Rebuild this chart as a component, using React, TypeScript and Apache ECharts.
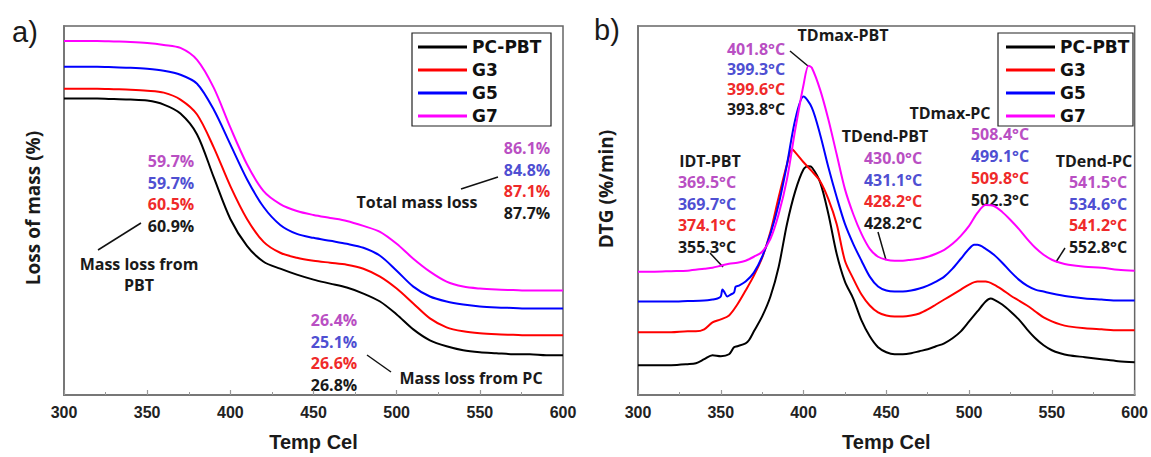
import React, { useEffect, useRef } from "react";
import * as echarts from "echarts";

// ---------- DATA ----------
const seriesNames = ["PC-PBT", "G3", "G5", "G7"];
const lineColors = ["#000000", "#ff0000", "#0000ff", "#ff00ff"];

// TGA curves (panel a), sampled every 10 °C from 300 to 600 (relative mass signal, stacked offsets)
const tgaTemps = [300, 310, 320, 330, 340, 350, 360, 370, 380, 390, 400, 410, 420, 430, 440, 450,
  460, 470, 480, 490, 500, 510, 520, 530, 540, 550, 560, 570, 580, 590, 600];
const tgaPcPbt = [298, 298, 298, 297.5, 297, 296, 292, 283, 262, 219, 177, 150, 134, 127, 121, 116,
  112, 108, 102, 94, 81, 66, 55, 49, 45, 43, 42, 41, 41, 40, 40];
const tgaG3 = [308, 308, 308, 307.5, 307, 306, 304, 297, 282, 249, 210, 177, 154, 143, 138, 135,
  133, 131, 127, 119, 107, 92, 77, 68, 64, 62, 61, 60.5, 60, 60, 60];
const tgaG5 = [330, 330, 330, 329.5, 329, 328, 326, 322, 313, 287, 252, 217, 189, 171, 162, 158,
  155, 152, 148, 140, 125, 109, 99, 94, 91, 89, 88, 87.5, 87, 87, 87];
const tgaG7 = [356, 356, 356, 355.5, 355, 354, 352, 349, 337, 309, 269, 232, 205, 192, 185, 181,
  178, 175, 170, 164, 152, 137, 124, 114, 109, 107, 106, 105.5, 105, 105, 105];

// DTG curves (panel b): [temperature °C, DTG signal (stacked offsets)]
const dtgPcPbt: [number, number][] = [
  [300, 30], [310, 30], [320, 30], [330, 31], [335, 32], [340, 36], [345, 40], [350, 39], [355, 41],
  [358, 48], [360, 49], [365, 52], [367, 55], [370, 64], [375, 79], [380, 99], [385, 129], [390, 172],
  [395, 205], [400, 227], [403, 230], [405, 229], [410, 214], [415, 182], [420, 142], [425, 114],
  [430, 97], [435, 75], [440, 59], [445, 48], [450, 43], [455, 41], [460, 41], [465, 42], [470, 44],
  [475, 46], [480, 49], [485, 52], [490, 57], [495, 64], [500, 74], [505, 84], [510, 94], [513, 97],
  [515, 96], [520, 91], [525, 84], [530, 76], [535, 66], [540, 57], [545, 50], [550, 45], [555, 42],
  [560, 40], [570, 38], [580, 36], [590, 34], [600, 33],
];
const dtgG3: [number, number][] = [
  [300, 63], [310, 63], [320, 63], [330, 64], [335, 64], [340, 66], [345, 73], [350, 76], [355, 80],
  [360, 91], [365, 105], [370, 120], [375, 138], [380, 164], [385, 199], [390, 232], [393, 247],
  [395, 244], [400, 234], [405, 225], [410, 215], [415, 197], [420, 172], [425, 135], [430, 117],
  [435, 101], [440, 90], [445, 83], [450, 80], [455, 79], [460, 79], [465, 80], [470, 82], [475, 86],
  [480, 91], [485, 96], [490, 101], [495, 106], [500, 111], [505, 114], [510, 114], [515, 111],
  [520, 106], [525, 100], [530, 95], [535, 90], [540, 84], [545, 78], [550, 74], [555, 71], [560, 69],
  [570, 67], [580, 66], [590, 65], [600, 65],
];
const dtgG5: [number, number][] = [
  [300, 94], [310, 94], [320, 94], [330, 94.5], [340, 95], [345, 96], [348, 97], [350, 99], [351, 106],
  [352, 104], [354, 99], [356, 101], [358, 103], [359, 109], [361, 110], [365, 114], [370, 123],
  [375, 139], [380, 162], [385, 192], [390, 232], [395, 277], [400, 300], [405, 289], [410, 262],
  [415, 229], [420, 199], [425, 172], [430, 152], [435, 135], [440, 119], [445, 109], [450, 105],
  [455, 104], [460, 104], [465, 105], [470, 107], [475, 110], [480, 114], [485, 119], [490, 127],
  [495, 137], [500, 147], [503, 151], [505, 151], [510, 147], [515, 141], [520, 133], [525, 124],
  [530, 116], [535, 110], [540, 106], [545, 104], [550, 102], [560, 99], [570, 97], [580, 96],
  [590, 95], [600, 95],
];
const dtgG7: [number, number][] = [
  [300, 124], [310, 124], [320, 124.5], [330, 125], [340, 127], [345, 128], [350, 130], [355, 132],
  [360, 133], [365, 135], [370, 139], [375, 144], [380, 157], [385, 182], [390, 217], [395, 267],
  [400, 312], [403, 331], [405, 329], [410, 307], [415, 277], [420, 242], [425, 207], [430, 182],
  [435, 162], [440, 147], [445, 139], [450, 136], [455, 135], [460, 135], [465, 136], [470, 137],
  [475, 139], [480, 142], [485, 146], [490, 152], [495, 160], [500, 170], [505, 183], [510, 191],
  [515, 190], [520, 184], [525, 176], [530, 167], [535, 157], [540, 148], [545, 141], [550, 136],
  [555, 133], [560, 131], [570, 129], [580, 128], [590, 126], [600, 125],
];

// Annotation texts, ordered G7, G5, G3, PC-PBT (top to bottom)
const massLossPbt = ["59.7%", "59.7%", "60.5%", "60.9%"];
const totalMassLoss = ["86.1%", "84.8%", "87.1%", "87.7%"];
const massLossPc = ["26.4%", "25.1%", "26.6%", "26.8%"];
const tdmaxPbt = ["401.8°C", "399.3°C", "399.6°C", "393.8°C"];
const tdmaxPc = ["508.4°C", "499.1°C", "509.8°C", "502.3°C"];
const tdendPbt = ["430.0°C", "431.1°C", "428.2°C", "428.2°C"];
const idtPbt = ["369.5°C", "369.7°C", "374.1°C", "355.3°C"];
const tdendPc = ["541.5°C", "534.6°C", "541.2°C", "552.8°C"];
const xTicks = [300, 350, 400, 450, 500, 550, 600];

// ---------- STYLE ----------
const textColors = ["#b94fc3", "#4f4fd2", "#ef2a2a", "#1a1a1a"]; // G7, G5, G3, PC-PBT
const annFont = "'Open Sans', 'DejaVu Sans', sans-serif";
const tickFont = "'Liberation Sans', Arial, sans-serif";

function stack(texts: string[], cx: number, y0: number, step: number, size = 16) {
  return texts.map((t, i) => ({
    type: "text",
    x: cx,
    y: y0 + i * step,
    style: {
      text: t,
      fill: textColors[i],
      fontFamily: annFont,
      fontWeight: "bold",
      fontSize: size,
      textAlign: "center",
      textVerticalAlign: "middle",
    },
  }));
}
function label(t: string, cx: number, cy: number, size = 16, rotation = 0, family = annFont, weight = "bold") {
  return {
    type: "text",
    x: cx,
    y: cy,
    rotation,
    style: {
      text: t,
      fill: "#1a1a1a",
      fontFamily: family,
      fontWeight: weight,
      fontSize: size,
      textAlign: "center",
      textVerticalAlign: "middle",
    },
  };
}
function leader(x1: number, y1: number, x2: number, y2: number) {
  return { type: "line", shape: { x1, y1, x2, y2 }, style: { stroke: "#111", lineWidth: 1.5 } };
}
function legendBox(x: number, y: number, w: number, h: number) {
  return { type: "rect", shape: { x, y, width: w, height: h }, style: { fill: "#fff", stroke: "#222", lineWidth: 1.2 }, z: -1 };
}

export default function App() {
  const ref = useRef<HTMLDivElement>(null);
  useEffect(() => {
    if (!ref.current) return;
    const chart = echarts.init(ref.current, null, { renderer: "svg" });

    const grids = [
      { left: 64, top: 26, width: 499, height: 371 },
      { left: 638, top: 26, width: 499, height: 371 },
    ];
    const xAxisBase = (gridIndex: number) => ({
      type: "value",
      gridIndex,
      min: 300,
      max: 600,
      interval: 50,
      axisLine: { show: true, lineStyle: { color: "#777", width: 2 } },
      axisTick: { show: true, inside: true, length: 5, lineStyle: { color: "#999", width: 1.2 } },
      minorTick: { show: true, splitNumber: 2, length: 3, lineStyle: { color: "#999" } },
      splitLine: { show: false },
      axisLabel: {
        margin: 9,
        color: "#222",
        fontFamily: tickFont,
        fontWeight: "bold",
        fontSize: 16,
        formatter: (v: number) => (xTicks.includes(v) ? String(v) : ""),
      },
      name: "Temp Cel",
      nameLocation: "middle",
      nameGap: 37,
      nameTextStyle: { color: "#1a1a1a", fontFamily: tickFont, fontWeight: "bold", fontSize: 20 },
    });
    const yAxisBase = (gridIndex: number) => ({
      type: "value",
      gridIndex,
      min: 0,
      max: 371,
      axisLine: { show: true, lineStyle: { color: "#777", width: 2 } },
      axisTick: { show: false },
      axisLabel: { show: false },
      splitLine: { show: false },
    });

    const tga = [tgaPcPbt, tgaG3, tgaG5, tgaG7];
    const dtg = [dtgPcPbt, dtgG3, dtgG5, dtgG7];
    const series: any[] = [];
    tga.forEach((vals, i) =>
      series.push({
        type: "line", name: seriesNames[i], data: tgaTemps.map((t, k) => [t, vals[k]]),
        xAxisIndex: 0, yAxisIndex: 0,
        smooth: 0.3, symbol: "none", lineStyle: { color: lineColors[i], width: 2 }, itemStyle: { color: lineColors[i] },
      })
    );
    dtg.forEach((d, i) =>
      series.push({
        type: "line", name: seriesNames[i], data: d, xAxisIndex: 1, yAxisIndex: 1,
        smooth: 0.3, symbol: "none", lineStyle: { color: lineColors[i], width: 2 }, itemStyle: { color: lineColors[i] },
      })
    );

    const legendBase = (left: number) => ({
      data: seriesNames,
      orient: "vertical",
      left,
      top: 38,
      padding: 0,
      itemGap: 5,
      itemWidth: 49,
      itemHeight: 3,
      icon: "rect",
      textStyle: { color: "#111", fontFamily: "'DejaVu Sans', sans-serif", fontWeight: "bold", fontSize: 17, lineHeight: 18 },
      selectedMode: false,
    });

    const graphic: any[] = [
      legendBox(412, 33, 139, 93),
      legendBox(998, 33, 135, 93),
      label("a)", 25, 32, 29, 0, tickFont, "normal"),
      label("b)", 607, 30, 29, 0, tickFont, "normal"),
      label("Loss of mass (%)", 33, 208, 19, Math.PI / 2),
      label("DTG (%/min)", 606, 189, 19, Math.PI / 2),
      // panel a annotations
      ...stack(massLossPbt, 171, 161, 21.6),
      label("Mass loss from", 139, 264),
      label("PBT", 139, 285),
      leader(141, 223, 98, 250),
      ...stack(totalMassLoss, 527, 148, 21.7),
      label("Total mass loss", 417, 202),
      leader(461, 189, 498, 177),
      ...stack(massLossPc, 334, 320, 21.7),
      label("Mass loss from PC", 471, 378),
      leader(367, 355, 391, 372),
      // panel b annotations
      label("TDmax-PBT", 843, 35),
      ...stack(tdmaxPbt, 756, 49, 20),
      leader(790, 51, 808, 66),
      label("TDmax-PC", 950, 113),
      ...stack(tdmaxPc, 1000, 134, 22),
      label("TDend-PBT", 885, 136),
      ...stack(tdendPbt, 893, 158, 21.7),
      leader(878, 232, 886, 260),
      label("IDT-PBT", 710, 161),
      ...stack(idtPbt, 707, 182, 21.7),
      leader(710, 253, 723, 267),
      label("TDend-PC", 1094, 161),
      ...stack(tdendPc, 1098, 182, 21.7),
      leader(1065, 248, 1056, 262),
    ];

    chart.setOption({
      animation: false,
      backgroundColor: "#ffffff",
      grid: grids.map((g) => ({ ...g, show: true, borderColor: "#666", borderWidth: 1.5, backgroundColor: "transparent" })),
      xAxis: [xAxisBase(0), xAxisBase(1)],
      yAxis: [yAxisBase(0), yAxisBase(1)],
      legend: [legendBase(418), legendBase(1006)],
      series,
      graphic,
    });
    return () => chart.dispose();
  }, []);
  return <div ref={ref} style={{ position: "fixed", left: 0, top: 0, width: 1151, height: 457 }} />;
}
